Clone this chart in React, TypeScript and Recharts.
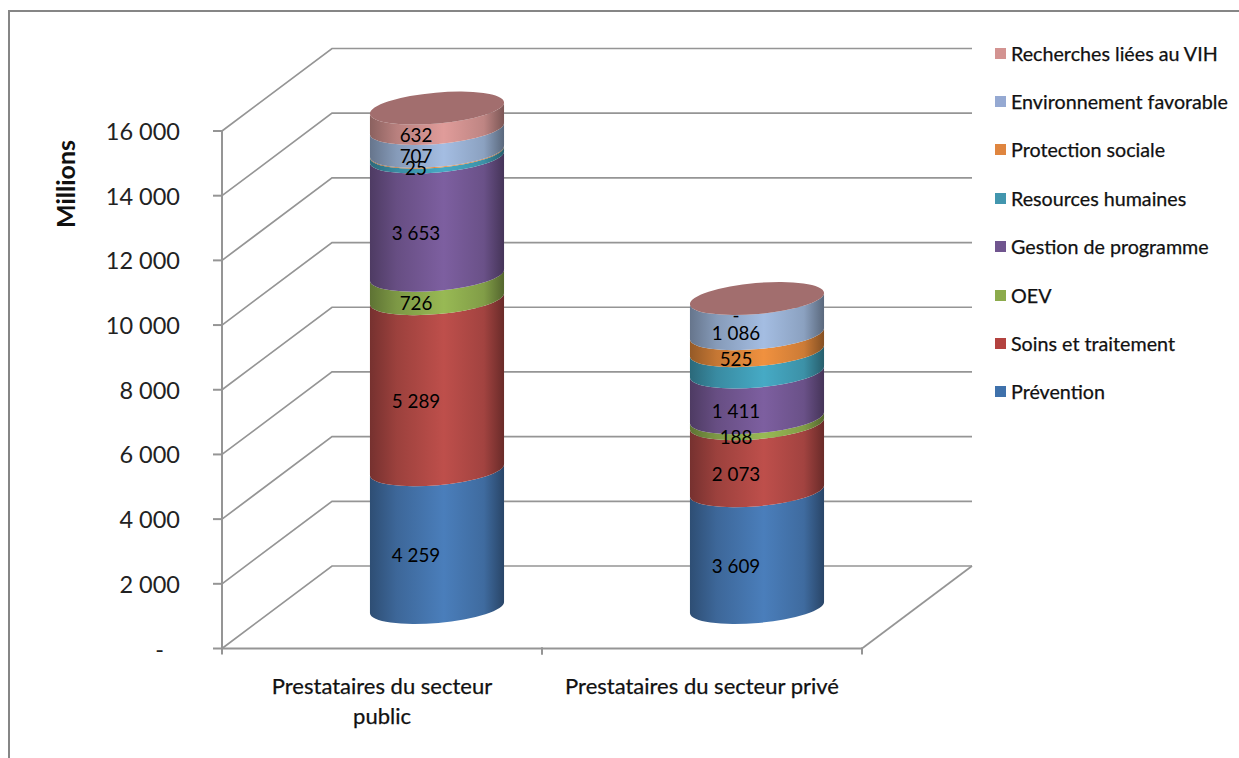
import React from 'react';
import { BarChart, Bar, CartesianGrid, LabelList, Legend, XAxis, YAxis } from 'recharts';

const categories = ['Prestataires du secteur public', 'Prestataires du secteur privé'];
const categoryLines = [['Prestataires du secteur', 'public'], ['Prestataires du secteur privé']];
const yTicks = [0, 2000, 4000, 6000, 8000, 10000, 12000, 14000, 16000];

const prevention = [4259, 3609];
const soins = [5289, 2073];
const oev = [726, 188];
const gestion = [3653, 1411];
const resources = [150, 660];
const protection = [25, 525];
const environnement = [707, 1086];
const recherches = [632, 0];

// Resources humaines carries no value label in either column
const series = [
  { name: 'Prévention', values: prevention, color: '#4a7ebb', swatch: '#3f71ab', labelled: true },
  { name: 'Soins et traitement', values: soins, color: '#be4f4b', swatch: '#b3423f', labelled: true },
  { name: 'OEV', values: oev, color: '#98b954', swatch: '#8cab4c', labelled: true },
  { name: 'Gestion de programme', values: gestion, color: '#7d5fa0', swatch: '#70558f', labelled: true },
  { name: 'Resources humaines', values: resources, color: '#46aac5', swatch: '#4296ae', labelled: false },
  { name: 'Protection sociale', values: protection, color: '#f0913f', swatch: '#df853f', labelled: true },
  { name: 'Environnement favorable', values: environnement, color: '#a4bde2', swatch: '#95a9d2', labelled: true },
  { name: 'Recherches liées au VIH', values: recherches, color: '#e09c9a', swatch: '#d39391', labelled: true },
];

const data = categories.map((name, i) => {
  const row: Record<string, string | number> = { name };
  series.forEach((s) => { row[s.name] = s.values[i]; });
  return row;
});

const FONT = 'Lato, Carlito, sans-serif';
const AXIS = '#959595';

// the wall sits one full depth behind the axes, cylinders half way
const WALL_DX = 110;
const WALL_DY = -82.5;
const BAR_DX = 55;
const BAR_DY = -41;

// tilted ellipse of a cylinder section
const RX = 67.3;
const RY = 15.5;
const TILT = -5;
const EDGE_X = RX * Math.cos((TILT * Math.PI) / 180);
const EDGE_Y = RX * Math.sin((TILT * Math.PI) / 180);

const fmt = (v: number) => (v === 0 ? '-' : String(v).replace(/\B(?=(\d{3})+$)/g, ' '));
const gradId = (i: number) => `cyl-${i}`;

const shade = (hex: string, k: number) => {
  const n = parseInt(hex.slice(1), 16);
  const c = [(n >> 16) & 255, (n >> 8) & 255, n & 255].map((v) => Math.round(v * k));
  return `rgb(${c.join(',')})`;
};

const Segment = (props: any) => {
  const { x, y, width, height, gradient, isTop } = props;
  const cx = x + width / 2 + BAR_DX;
  const top = y + BAR_DY;
  const bottom = y + height + BAR_DY;
  const side = [
    `M${cx - EDGE_X},${top - EDGE_Y}`,
    `A${RX},${RY} ${TILT} 0 0 ${cx + EDGE_X},${top + EDGE_Y}`,
    `L${cx + EDGE_X},${bottom + EDGE_Y}`,
    `A${RX},${RY} ${TILT} 0 1 ${cx - EDGE_X},${bottom - EDGE_Y}`,
    'Z',
  ].join(' ');
  return (
    <g>
      <path d={side} fill={`url(#${gradient})`} />
      {isTop && (
        <ellipse cx={cx} cy={top} rx={RX} ry={RY} fill="#a26e6e" transform={`rotate(${TILT} ${cx} ${top})`} />
      )}
    </g>
  );
};

const SegmentLabel = (props: any) => {
  const { x, y, width, height, value } = props;
  return (
    <text
      x={x + width / 2 + BAR_DX - 21}
      y={y + height / 2 + BAR_DY + 16}
      textAnchor="middle"
      dominantBaseline="central"
      fontFamily={FONT}
      fontSize={18.8}
      fill="#000"
    >
      {fmt(value)}
    </text>
  );
};

// back wall: each tick runs up the side wall and across the back
const WallLine = (props: any) => {
  const { x1, x2, y1, y, height } = props;
  const isFloor = y1 >= y + height - 0.5;
  return (
    <g stroke={AXIS} strokeWidth={1.7} fill="none">
      <path d={`M${x1},${y1} L${x1 + WALL_DX},${y1 + WALL_DY} L${x2 + WALL_DX},${y1 + WALL_DY}`} />
      {isFloor && <path d={`M${x2},${y1} L${x2 + WALL_DX},${y1 + WALL_DY}`} />}
    </g>
  );
};

const YTick = (props: any) => {
  const { x, y, payload } = props;
  return (
    <text
      x={payload.value === 0 ? x - 16 : x}
      y={y}
      textAnchor="end"
      dominantBaseline="central"
      fontFamily={FONT}
      fontSize={23.5}
      fill="#222"
    >
      {fmt(payload.value)}
    </text>
  );
};

const BAND = 320;

const XTick = (props: any) => {
  const { x, y, payload, index } = props;
  const base = y - 9;
  const lines = categoryLines[payload.index ?? index];
  return (
    <g>
      <path
        d={`M${x - BAND / 2},${base} v7 M${x + BAND / 2},${base} v7`}
        stroke={AXIS}
        strokeWidth={2}
      />
      <text x={x} textAnchor="middle" fontFamily={FONT} fontSize={22} fill="#111" stroke="#111" strokeWidth={0.25}>
        {lines.map((l: string, i: number) => (
          <tspan key={l} x={x} y={base + 46 + i * 30}>{l}</tspan>
        ))}
      </text>
    </g>
  );
};

const LegendList = () => (
  <div style={{ fontFamily: FONT, fontSize: 19.7, color: '#111', WebkitTextStroke: '0.25px #111' }}>
    {[...series].reverse().map((s) => (
      <div key={s.name} style={{ height: 48.4, display: 'flex', alignItems: 'center', whiteSpace: 'nowrap' }}>
        <span style={{ width: 11, height: 11, background: s.swatch, marginLeft: 5, marginRight: 5, flex: 'none' }} />
        {s.name}
      </div>
    ))}
  </div>
);

export default function App() {
  return (
    <div style={{ position: 'absolute', left: 0, top: 0, width: 1239, height: 758, overflow: 'hidden', background: '#fff' }}>
      <div style={{ position: 'absolute', left: 8, top: 10, right: -4, bottom: -4, borderLeft: `2px solid #868686`, borderTop: `2px solid #868686` }} />
      <div style={{ position: 'absolute', left: 0, top: 0 }}>
        <BarChart
          width={1239}
          height={758}
          data={data}
          barSize={134}
          margin={{ top: 131, right: 128, bottom: 0, left: 0 }}
        >
          <defs>
            {series.map((s, i) => (
              <linearGradient key={s.name} id={gradId(i)} x1="0" y1="0" x2="1" y2="0">
                <stop offset="0" stopColor={shade(s.color, 0.62)} />
                <stop offset="0.2" stopColor={shade(s.color, 0.82)} />
                <stop offset="0.55" stopColor={s.color} />
                <stop offset="0.85" stopColor={shade(s.color, 0.85)} />
                <stop offset="1" stopColor={shade(s.color, 0.55)} />
              </linearGradient>
            ))}
          </defs>
          <CartesianGrid vertical={false} horizontal={(p: any) => <WallLine key={p.index} {...p} />} />
          <XAxis
            dataKey="name"
            height={109.5}
            interval={0}
            axisLine={{ stroke: AXIS, strokeWidth: 2 }}
            tickLine={false}
            tick={<XTick />}
          />
          <YAxis
            width={222}
            domain={[0, 16000]}
            ticks={yTicks}
            interval={0}
            axisLine={{ stroke: AXIS, strokeWidth: 2 }}
            tickLine={{ stroke: AXIS, strokeWidth: 2 }}
            tickSize={9}
            tickMargin={33}
            tick={<YTick />}
            label={{
              content: () => (
                <text
                  transform="translate(65 184) rotate(-90)"
                  textAnchor="middle"
                  dominantBaseline="central"
                  fontFamily={FONT}
                  fontWeight={700}
                  fontSize={25}
                  fill="#111"
                >
                  Millions
                </text>
              ),
            }}
          />
          <Legend
            layout="vertical"
            align="right"
            verticalAlign="top"
            width={249}
            content={<LegendList />}
            wrapperStyle={{ left: 990, top: 29, right: 'auto' }}
          />
          {series.map((s, i) => (
            <Bar
              key={s.name}
              dataKey={s.name}
              stackId="total"
              fill={s.color}
              isAnimationActive={false}
              shape={(p: any) => <Segment {...p} gradient={gradId(i)} isTop={i === series.length - 1} />}
            >
              {s.labelled && <LabelList dataKey={s.name} content={(p: any) => <SegmentLabel {...p} />} />}
            </Bar>
          ))}
        </BarChart>
      </div>
    </div>
  );
}
